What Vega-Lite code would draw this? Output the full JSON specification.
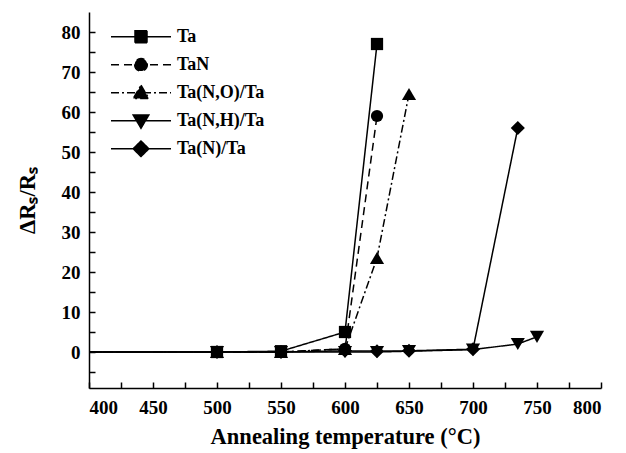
{
  "$schema": "https://vega.github.io/schema/vega-lite/v6.json",
  "width": 512,
  "height": 376,
  "autosize": "none",
  "padding": {"left": 89, "top": 12, "right": 25, "bottom": 65},
  "background": "white",
  "config": {
    "view": {"stroke": null},
    "font": "Liberation Serif",
    "axis": {
      "grid": false,
      "domainColor": "black",
      "domainWidth": 1.5,
      "tickColor": "black",
      "tickWidth": 1.5,
      "tickSize": -6,
      "labelFont": "Liberation Serif",
      "labelFontSize": 19,
      "labelFontWeight": "bold",
      "labelColor": "black",
      "titleFont": "Liberation Serif",
      "titleFontSize": 22.5,
      "titleFontWeight": "bold",
      "titleColor": "black"
    }
  },
  "data": {
    "values": [
      {"series": "Ta", "temp": 25, "r": 0},
      {"series": "Ta", "temp": 500, "r": 0},
      {"series": "Ta", "temp": 550, "r": 0.2},
      {"series": "Ta", "temp": 600, "r": 5},
      {"series": "Ta", "temp": 625, "r": 77},
      {"series": "TaN", "temp": 25, "r": 0},
      {"series": "TaN", "temp": 500, "r": 0},
      {"series": "TaN", "temp": 550, "r": 0},
      {"series": "TaN", "temp": 600, "r": 0.8},
      {"series": "TaN", "temp": 625, "r": 59},
      {"series": "Ta(N,O)/Ta", "temp": 25, "r": 0},
      {"series": "Ta(N,O)/Ta", "temp": 500, "r": 0},
      {"series": "Ta(N,O)/Ta", "temp": 550, "r": 0},
      {"series": "Ta(N,O)/Ta", "temp": 600, "r": 0.8},
      {"series": "Ta(N,O)/Ta", "temp": 625, "r": 23.5},
      {"series": "Ta(N,O)/Ta", "temp": 650, "r": 64.5},
      {"series": "Ta(N,H)/Ta", "temp": 25, "r": 0},
      {"series": "Ta(N,H)/Ta", "temp": 500, "r": 0},
      {"series": "Ta(N,H)/Ta", "temp": 550, "r": 0},
      {"series": "Ta(N,H)/Ta", "temp": 600, "r": 0},
      {"series": "Ta(N,H)/Ta", "temp": 625, "r": 0},
      {"series": "Ta(N,H)/Ta", "temp": 650, "r": 0.2},
      {"series": "Ta(N,H)/Ta", "temp": 700, "r": 0.6},
      {"series": "Ta(N,H)/Ta", "temp": 735, "r": 2},
      {"series": "Ta(N,H)/Ta", "temp": 750, "r": 3.8},
      {"series": "Ta(N)/Ta", "temp": 25, "r": 0},
      {"series": "Ta(N)/Ta", "temp": 500, "r": 0},
      {"series": "Ta(N)/Ta", "temp": 550, "r": 0},
      {"series": "Ta(N)/Ta", "temp": 600, "r": 0.3},
      {"series": "Ta(N)/Ta", "temp": 625, "r": 0.2},
      {"series": "Ta(N)/Ta", "temp": 650, "r": 0.3},
      {"series": "Ta(N)/Ta", "temp": 700, "r": 0.7},
      {"series": "Ta(N)/Ta", "temp": 735, "r": 56}
    ]
  },
  "encoding": {
    "x": {
      "field": "temp",
      "type": "quantitative",
      "scale": {"domain": [400, 800], "nice": false, "zero": false},
      "axis": {
        "title": "Annealing temperature (°C)",
        "values": [400, 425, 450, 475, 500, 525, 550, 575, 600, 625, 650, 675, 700, 725, 750, 775, 800],
        "labelExpr": "datum.value % 50 == 0 ? datum.label : ''",
        "labelPadding": 16,
        "titlePadding": 8
      }
    },
    "y": {
      "field": "r",
      "type": "quantitative",
      "scale": {"domain": [-9, 85], "nice": false, "zero": false},
      "axis": {
        "title": "ΔRₛ/Rₛ",
        "values": [-5, 0, 5, 10, 15, 20, 25, 30, 35, 40, 45, 50, 55, 60, 65, 70, 75, 80],
        "labelExpr": "datum.value % 10 == 0 ? datum.label : ''",
        "labelPadding": 15,
        "titlePadding": 22
      }
    }
  },
  "layer": [
    {
      "mark": {"type": "line", "color": "black", "strokeWidth": 1.5, "clip": true},
      "encoding": {
        "strokeDash": {
          "field": "series",
          "type": "nominal",
          "scale": {
            "domain": ["Ta", "TaN", "Ta(N,O)/Ta", "Ta(N,H)/Ta", "Ta(N)/Ta"],
            "range": [[1, 0], [8, 5], [8, 3, 2, 3], [1, 0], [1, 0]]
          },
          "legend": {
            "title": null,
            "orient": "none",
            "legendX": 21,
            "legendY": 11,
            "symbolSize": 3600,
            "symbolStrokeWidth": 1.5,
            "symbolStrokeColor": "black",
            "labelFont": "Liberation Serif",
            "labelFontSize": 18,
            "labelFontWeight": "bold",
            "labelColor": "black",
            "labelOffset": 5,
            "clipHeight": 27.5,
            "rowPadding": 0,
            "encode": {
              "symbols": {
                "update": {
                  "shape": {"signal": "datum.value == 'Ta' ? 'M-1,0L1,0M-0.2,-0.2L0.2,-0.2L0.2,0.2L-0.2,0.2Z' : datum.value == 'TaN' ? 'M-1,0L1,0M-0.21,0A0.21,0.21 0 1,0 0.21,0A0.21,0.21 0 1,0 -0.21,0Z' : datum.value == 'Ta(N,O)/Ta' ? 'M-1,0L1,0M0,-0.25L0.26,0.19L-0.26,0.19Z' : datum.value == 'Ta(N,H)/Ta' ? 'M-1,0L1,0M0,0.25L0.26,-0.19L-0.26,-0.19Z' : 'M-1,0L1,0M0,-0.26L0.26,0L0,0.26L-0.26,0Z'"},
                  "size": {"value": 3600},
                  "fill": {"value": "black"},
                  "fillOpacity": {"value": 1},
                  "stroke": {"value": "black"},
                  "strokeWidth": {"value": 1.5},
                  "strokeOpacity": {"value": 1},
                  "opacity": {"value": 1}
                }
              }
            }
          }
        }
      }
    },
    {
      "mark": {"type": "point", "filled": true, "color": "black", "opacity": 1, "clip": true},
      "encoding": {
        "shape": {
          "condition": [
            {"test": "datum.series == 'Ta'", "value": "square"},
            {"test": "datum.series == 'TaN'", "value": "circle"},
            {"test": "datum.series == 'Ta(N,O)/Ta'", "value": "triangle-up"},
            {"test": "datum.series == 'Ta(N,H)/Ta'", "value": "triangle-down"}
          ],
          "value": "diamond"
        },
        "size": {
          "condition": {"test": "datum.series == 'Ta' || datum.series == 'TaN'", "value": 150},
          "value": 200
        }
      }
    }
  ]
}
